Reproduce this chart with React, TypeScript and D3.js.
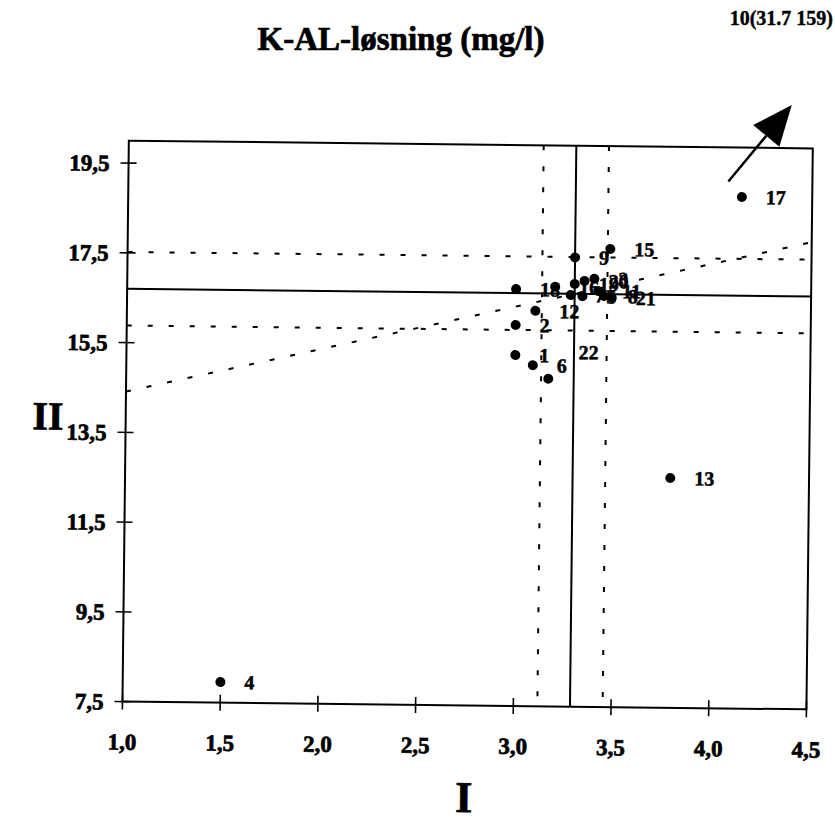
import React from 'react';
import * as d3 from 'd3';

// ---- data ----
const labIds = ['1', '2', '3', '4', '5', '6', '7', '8', '9', '11', '12', '13', '15', '16', '17', '18', '19', '20', '21', '22'];
const valuesI = [2.99, 2.99, 3.39, 1.50, 3.33, 3.08, 3.27, 3.44, 3.29, 3.41, 3.09, 3.79, 3.47, 3.19, 4.14, 2.99, 3.29, 3.34, 3.48, 3.16];
const valuesII = [15.32, 15.99, 17.04, 7.96, 16.65, 15.10, 16.67, 16.66, 17.51, 16.77, 16.31, 12.62, 17.71, 16.85, 18.90, 16.79, 16.92, 16.99, 16.62, 14.80];

const xTicks = [1.0, 1.5, 2.0, 2.5, 3.0, 3.5, 4.0, 4.5];
const yTicks = [7.5, 9.5, 11.5, 13.5, 15.5, 17.5, 19.5];
const xDomain = [1.0, 4.5];
const yDomain = [7.5, 20.0];

const meanI = 3.29;
const meanII = 16.70;
const bandI = 0.167;
const bandII = 0.82;

const outlierText = '10(31.7 159)';
const arrowFrom = [4.07, 19.24];
const arrowTo = [4.39, 20.96];

const title = 'K-AL-løsning (mg/l)';
const xTitle = 'I';
const yTitle = 'II';

// label nudges for overlapping labels (pixels)
const labelNudge: Record<string, [number, number]> = { '22': [30, -27] };

const fmt = (v: number) => v.toFixed(1).replace('.', ',');

export default function App() {
  const W = 835, H = 821;
  const left = 125.75, right = 809.75, top = 144.5, bottom = 705.5;
  const x = d3.scaleLinear().domain(xDomain).range([left, right]);
  const y = d3.scaleLinear().domain(yDomain).range([bottom, top]);
  const font = '"Liberation Serif", "Times New Roman", serif';
  const cx = (left + right) / 2, cy = (top + bottom) / 2 - 10.5;

  // arrow geometry
  const ax0 = x(arrowFrom[0]), ay0 = y(arrowFrom[1]);
  const ax1 = x(arrowTo[0]), ay1 = y(arrowTo[1]);
  const ang = Math.atan2(ay1 - ay0, ax1 - ax0);
  const headLen = 40, headHalf = 17;
  const bx = ax1 - headLen * Math.cos(ang), by = ay1 - headLen * Math.sin(ang);
  const px = -Math.sin(ang), py = Math.cos(ang);
  const head = [
    [ax1, ay1],
    [bx + headHalf * px, by + headHalf * py],
    [bx - headHalf * px, by - headHalf * py],
  ].map(p => p.join(',')).join(' ');

  const diagX = xDomain;
  const diagY = diagX.map(v => meanII + (v - meanI));

  const dash = '5 16';
  const heavy = { stroke: '#000', strokeWidth: 0.7 };

  return (
    <svg width={W} height={H} style={{ position: 'absolute', left: 0, top: 0, background: '#fff' }} fontFamily={font}>
      <rect x={0} y={0} width={W} height={H} fill="#fff" />
      <text x={401} y={50} textAnchor="middle" fontSize={33} fontWeight="bold" {...heavy}>{title}</text>
      <text x={833} y={25} textAnchor="end" fontSize={20} fontWeight="bold" stroke="#000" strokeWidth={0.4}>{outlierText}</text>
      <g transform={`rotate(0.65 ${cx} ${cy})`}>
        {/* frame */}
        <rect x={left} y={top} width={right - left} height={bottom - top} fill="none" stroke="#000" strokeWidth={2} />
        {/* x ticks */}
        {xTicks.map(t => (
          <g key={'xt' + t}>
            <line x1={x(t)} x2={x(t)} y1={bottom - 8} y2={bottom + 8} stroke="#000" strokeWidth={1.6} />
            <text x={x(t)} y={bottom + 48} textAnchor="middle" fontSize={23} fontWeight="bold" {...heavy}>{fmt(t)}</text>
          </g>
        ))}
        {/* y ticks */}
        {yTicks.map(t => (
          <g key={'yt' + t}>
            <line x1={left - 8} x2={left + 8} y1={y(t)} y2={y(t)} stroke="#000" strokeWidth={1.6} />
            <text x={left - 19} y={y(t)} dy="0.35em" textAnchor="end" fontSize={23} fontWeight="bold" {...heavy}>{fmt(t)}</text>
          </g>
        ))}
        {/* axis titles */}
        <text x={468} y={812} textAnchor="middle" fontSize={44} fontWeight="bold" {...heavy}>{xTitle}</text>
        <text x={48} y={y(13.5) - 16} dy="0.35em" textAnchor="middle" fontSize={40} fontWeight="bold" {...heavy}>{yTitle}</text>

        {/* mean lines */}
        <line x1={x(meanI)} x2={x(meanI)} y1={top} y2={bottom} stroke="#000" strokeWidth={2} />
        <line x1={left} x2={right} y1={y(meanII)} y2={y(meanII)} stroke="#000" strokeWidth={2} />
        {/* band lines */}
        {[meanI - bandI, meanI + bandI].map(v => (
          <line key={'bv' + v} x1={x(v)} x2={x(v)} y1={top} y2={bottom} stroke="#000" strokeWidth={2} strokeDasharray={dash} />
        ))}
        {[meanII - bandII, meanII + bandII].map(v => (
          <line key={'bh' + v} x1={left} x2={right} y1={y(v)} y2={y(v)} stroke="#000" strokeWidth={2} strokeDasharray={dash} />
        ))}
        {/* 45 degree line */}
        <line x1={x(diagX[0])} y1={y(diagY[0])} x2={x(diagX[1])} y2={y(diagY[1])} stroke="#000" strokeWidth={2} strokeDasharray={dash} />

        {/* points */}
        {labIds.map((id, i) => (
          <circle key={'p' + id} cx={x(valuesI[i])} cy={y(valuesII[i])} r={5} fill="#000" />
        ))}
        {labIds.map((id, i) => {
          const n = labelNudge[id] || [24, 0];
          return (
            <text key={'l' + id} x={x(valuesI[i]) + n[0]} y={y(valuesII[i]) + n[1]} dy="0.35em" fontSize={20} fontWeight="bold" stroke="#000" strokeWidth={0.5}>{id}</text>
          );
        })}

        {/* arrow toward off-chart lab 10 */}
        <line x1={ax0} y1={ay0} x2={bx} y2={by} stroke="#000" strokeWidth={2.5} />
        <polygon points={head} fill="#000" />
      </g>
    </svg>
  );
}
